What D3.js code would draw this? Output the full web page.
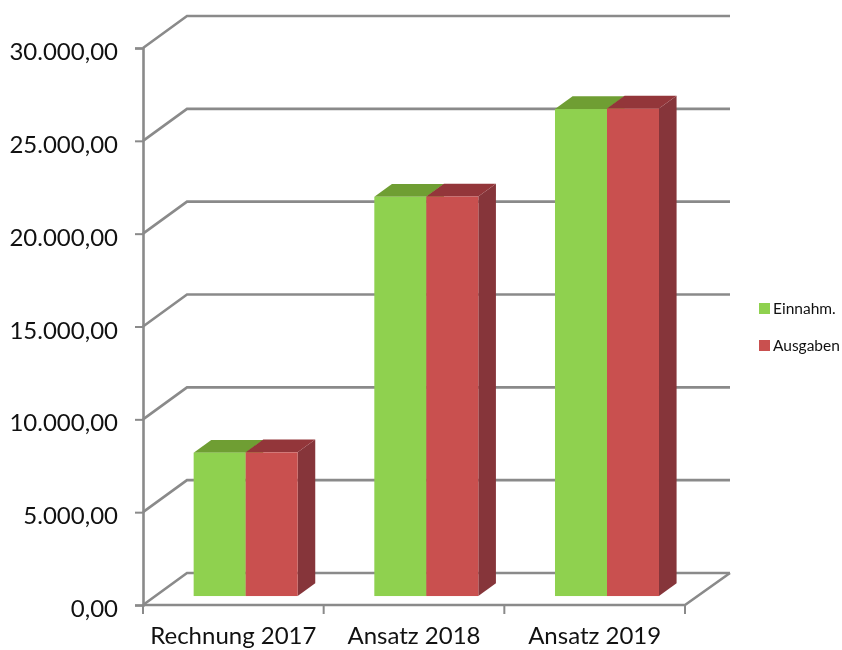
<!DOCTYPE html>
<html>
<head>
<meta charset="utf-8">
<script src="https://cdn.jsdelivr.net/npm/d3@7"></script>
<style>
  html, body { margin: 0; padding: 0; background: #fff; overflow: hidden; }
  text { font-family: Lato, "Open Sans", sans-serif; fill: #111; }
  svg { filter: blur(0.4px); }
</style>
</head>
<body>
<div id="chart"></div>
<script>
const categories = ["Rechnung 2017", "Ansatz 2018", "Ansatz 2019"];
const seriesNames = ["Einnahm.", "Ausgaben"];
const einnahmen = [7720, 21500, 26230];
const ausgaben = [7740, 21520, 26260];
const yTicks = [0, 5000, 10000, 15000, 20000, 25000, 30000];

const width = 842, height = 650;
const plot = { left: 143, right: 685, top: 48, bottom: 605 };
// offset of the back wall against the front of the floor
const depth = { x: 44, y: -32 };
const wallRight = 730;
// bars stand between these fractions of the floor depth
const barFront = 0.28, barBack = 0.68;

const svg = d3.select("#chart").append("svg")
    .attr("width", width)
    .attr("height", height);

const xScale = d3.scaleBand().domain(categories).range([plot.left, plot.right]);
const groupScale = d3.scaleBand().domain(seriesNames).range([0, 104]);
const yScale = d3.scaleLinear().domain([0, 30000]).range([plot.bottom, plot.top]);

// German number format for the value axis
const de = d3.formatLocale({ decimal: ",", thousands: ".", grouping: [3], currency: ["", " €"] });
const fmt = de.format(",.2f");

// front-plane point pushed back by t of the floor depth
const px = (x, t) => x + depth.x * t;
const py = (y, t) => y + depth.y * t;
const poly = pts => pts.map(p => p.join(",")).join(" ");

const lineColor = "#8a8a8a";
const lineWidth = 2.6;

// walls
const grid = svg.append("g").attr("fill", "none").attr("stroke", lineColor).attr("stroke-width", lineWidth);
grid.selectAll("polyline").data(yTicks).join("polyline")
    .attr("points", d => poly([
        [plot.left, yScale(d)],
        [px(plot.left, 1), py(yScale(d), 1)],
        [wallRight, py(yScale(d), 1)]
    ]));
grid.append("polyline").attr("points", poly([
    [plot.left, plot.bottom],
    [plot.right, plot.bottom],
    [wallRight, py(plot.bottom, 1)]
]));

// value axis
const yAxis = d3.axisLeft(yScale).tickValues(yTicks).tickFormat(fmt).tickSize(8).tickPadding(17);
const yg = svg.append("g").attr("transform", `translate(${plot.left},0)`).call(yAxis);
yg.select(".domain").attr("stroke", lineColor).attr("stroke-width", lineWidth);
yg.selectAll(".tick line").attr("stroke", lineColor).attr("stroke-width", 2);
yg.selectAll("text").attr("font-size", 24).attr("dy", "0.48em").style("font-family", "Lato").attr("fill", "#111");

// category axis
const xAxis = d3.axisBottom(xScale).tickSize(0).tickPadding(22);
const xg = svg.append("g").attr("transform", `translate(0,${plot.bottom})`).call(xAxis);
xg.select(".domain").remove();
xg.selectAll("text").attr("font-size", 24).style("font-family", "Lato").attr("fill", "#111");
svg.append("g").attr("stroke", lineColor).attr("stroke-width", 2)
  .selectAll("line")
  .data(categories.map(c => xScale(c)).concat([plot.right]))
  .join("line")
    .attr("x1", d => d).attr("x2", d => d)
    .attr("y1", plot.bottom).attr("y2", plot.bottom + 9);

// bars, back to front: top and side faces first, then the front
const colors = {
    "Einnahm.": { front: "#8fd14f", top: "#6f9e33", side: "#6f9e33" },
    "Ausgaben": { front: "#c9504f", top: "#93363a", side: "#86353a" }
};
const valuesBySeries = { "Einnahm.": einnahmen, "Ausgaben": ausgaben };

categories.forEach((cat, i) => {
    const g = svg.append("g");
    seriesNames.forEach(name => {
        const v = valuesBySeries[name][i];
        const c = colors[name];
        const x0 = px(xScale(cat) + (xScale.bandwidth() - groupScale.range()[1]) / 2 + groupScale(name), barFront);
        const x1 = x0 + groupScale.bandwidth();
        const yb = py(yScale(0), barFront);
        const yt = py(yScale(v), barFront);
        const dx = depth.x * (barBack - barFront);
        const dy = depth.y * (barBack - barFront);

        g.append("polygon").attr("fill", c.side)
            .attr("points", poly([[x1, yt], [x1 + dx, yt + dy], [x1 + dx, yb + dy], [x1, yb]]));
        g.append("polygon").attr("fill", c.top)
            .attr("points", poly([[x0, yt], [x0 + dx, yt + dy], [x1 + dx, yt + dy], [x1, yt]]));
        g.append("rect").attr("fill", c.front)
            .attr("x", x0).attr("y", yt)
            .attr("width", x1 - x0).attr("height", yb - yt);
    });
});

// legend
const legend = svg.append("g").attr("transform", "translate(759,303)");
const legendRow = legend.selectAll("g").data(seriesNames).join("g")
    .attr("transform", (d, i) => `translate(0,${i * 37})`);
legendRow.append("rect").attr("width", 11).attr("height", 11).attr("fill", d => colors[d].front);
legendRow.append("text").attr("x", 14).attr("y", 10.5).attr("font-size", 15.5).text(d => d);
</script>
</body>
</html>
